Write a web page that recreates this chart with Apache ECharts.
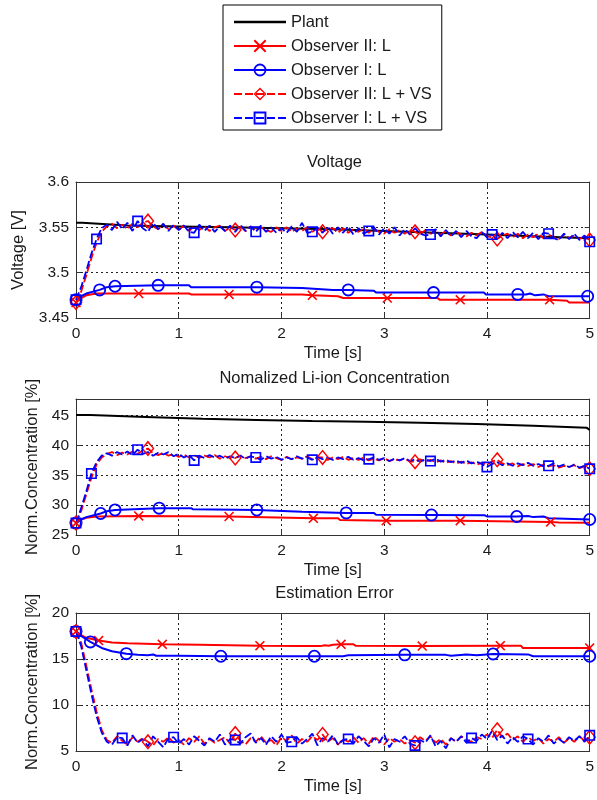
<!DOCTYPE html>
<html><head><meta charset="utf-8">
<script src="https://cdn.jsdelivr.net/npm/echarts@6/dist/echarts.min.js"></script>
<style>html,body{margin:0;padding:0;background:#fff}#c{width:597px;height:800px}</style>
</head><body><div id="c"></div>
<script>
// ---------- DATA ----------
const time = [0,0.05,0.1,0.15,0.2,0.25,0.3,0.35,0.4,0.45,0.5,0.55,0.6,0.65,0.7,0.75,0.8,0.85,0.9,0.95,1,1.05,1.1,1.15,1.2,1.25,1.3,1.35,1.4,1.45,1.5,1.55,1.6,1.65,1.7,1.75,1.8,1.85,1.9,1.95,2,2.05,2.1,2.15,2.2,2.25,2.3,2.35,2.4,2.45,2.5,2.55,2.6,2.65,2.7,2.75,2.8,2.85,2.9,2.95,3,3.05,3.1,3.15,3.2,3.25,3.3,3.35,3.4,3.45,3.5,3.55,3.6,3.65,3.7,3.75,3.8,3.85,3.9,3.95,4,4.05,4.1,4.15,4.2,4.25,4.3,4.35,4.4,4.45,4.5,4.55,4.6,4.65,4.7,4.75,4.8,4.85,4.9,4.95,5];

const seriesNames = ['Plant','Observer II: L','Observer I: L','Observer II: L + VS','Observer I: L + VS'];
const titles = ['Voltage','Nomalized Li-ion Concentration','Estimation Error'];
const yNames = ['Voltage [V]','Norm.Concentration [%]','Norm.Concentration [%]'];
const xName = 'Time [s]';
const xTicks = [0,1,2,3,4,5];
const yTicksV = [3.45,3.5,3.55,3.6];
const yTicksC = [25,30,35,40,45];
const yTicksE = [5,10,15,20];

// Voltage
const vPlant = [[0,3.555],[0.06,3.555],[0.07,3.553],[0.5,3.552],[1,3.551],[1.5,3.55],[2,3.549],[2.5,3.548],[3,3.546],[3.5,3.544],[4,3.542],[4.5,3.54],[5,3.538]];
const vObs2L = [[0,3.467],[0.05,3.472],[0.1,3.475],[0.2,3.477],[0.61,3.477],[1.1,3.477],[1.12,3.476],[1.49,3.476],[2.2,3.476],[2.3,3.475],[2.55,3.474],[2.6,3.472],[3.03,3.472],[3.52,3.472],[3.54,3.47],[3.74,3.47],[4.61,3.47],[4.78,3.469],[4.8,3.467],[5,3.467]];
const vObs2LMarks = [0,0.61,1.49,2.3,3.03,3.74,4.61];
const vObs1L = [[0,3.47],[0.05,3.474],[0.1,3.477],[0.23,3.481],[0.3,3.484],[0.38,3.485],[0.8,3.486],[1.1,3.486],[1.12,3.484],[1.76,3.484],[2.2,3.483],[2.5,3.481],[2.65,3.481],[2.9,3.48],[2.92,3.478],[3.48,3.478],[3.97,3.478],[3.99,3.476],[4.3,3.476],[4.38,3.476],[4.42,3.477],[4.47,3.475],[4.55,3.476],[4.6,3.474],[4.98,3.474],[5,3.474]];
const vObs1LMarks = [0,0.23,0.38,0.8,1.76,2.65,3.48,4.3,4.98];
const vObs2VS = [3.467,3.479,3.497,3.516,3.533,3.545,3.551,3.554,3.549,3.553,3.548,3.554,3.55,3.555,3.557,3.551,3.548,3.553,3.548,3.552,3.547,3.552,3.546,3.551,3.547,3.551,3.546,3.55,3.552,3.546,3.55,3.547,3.551,3.546,3.551,3.546,3.55,3.547,3.545,3.55,3.546,3.55,3.545,3.549,3.546,3.55,3.545,3.549,3.545,3.548,3.549,3.544,3.549,3.544,3.548,3.545,3.549,3.544,3.548,3.545,3.543,3.548,3.544,3.547,3.543,3.547,3.545,3.542,3.547,3.543,3.546,3.542,3.546,3.541,3.545,3.542,3.54,3.544,3.541,3.545,3.54,3.539,3.537,3.541,3.543,3.539,3.543,3.538,3.542,3.539,3.543,3.538,3.542,3.539,3.537,3.542,3.538,3.541,3.537,3.54,3.536];
const vObs1VS = [3.47,3.484,3.502,3.521,3.537,3.549,3.553,3.547,3.556,3.548,3.555,3.546,3.557,3.549,3.545,3.555,3.548,3.554,3.546,3.553,3.547,3.552,3.545,3.544,3.553,3.546,3.552,3.545,3.551,3.546,3.552,3.545,3.553,3.546,3.551,3.545,3.552,3.545,3.55,3.544,3.549,3.544,3.551,3.545,3.555,3.544,3.545,3.55,3.544,3.551,3.543,3.55,3.544,3.551,3.542,3.549,3.543,3.546,3.55,3.542,3.549,3.543,3.55,3.541,3.548,3.542,3.549,3.543,3.541,3.542,3.548,3.54,3.547,3.54,3.546,3.539,3.546,3.54,3.538,3.545,3.539,3.542,3.537,3.544,3.538,3.545,3.539,3.545,3.538,3.544,3.537,3.544,3.543,3.538,3.536,3.543,3.537,3.543,3.536,3.541,3.534];
const vObs1VSMarks = [0,0.2,0.6,1.15,1.75,2.3,2.85,3.45,4.05,4.6,5];

// Concentration
const cPlant = [[0,45.1],[0.14,45.1],[0.15,44.8],[0.68,44.8],[0.69,44.5],[1.23,44.5],[1.24,44.3],[1.76,44.3],[1.77,44.1],[2.3,44.1],[2.31,44],[2.82,44],[2.83,43.8],[3.35,43.8],[3.36,43.6],[3.9,43.6],[3.91,43.3],[4.45,43.3],[4.46,43],[4.97,43],[5,42.6]];
const cObs2L = [[0,27],[0.05,27.6],[0.1,27.9],[0.2,28.1],[0.61,28.2],[1.49,28.1],[2.31,27.8],[2.55,27.8],[2.57,27.5],[3.02,27.4],[3.74,27.4],[4.62,27.2],[4.7,27.1],[5,27.05]];
const cObs2LMarks = [0,0.61,1.49,2.31,3.02,3.74,4.62];
const cObs1L = [[0,27],[0.05,27.6],[0.1,28],[0.24,28.6],[0.3,29],[0.38,29.2],[0.81,29.5],[1.12,29.5],[1.14,29.3],[1.76,29.2],[2.2,28.9],[2.63,28.7],[2.9,28.7],[2.92,28.4],[3.46,28.35],[3.98,28.3],[4,28.1],[4.29,28.1],[4.4,28.2],[4.45,28],[4.55,28.1],[4.6,27.8],[5,27.6]];
const cObs1LMarks = [0,0.24,0.38,0.81,1.76,2.63,3.46,4.29,5];
const cObs2VS = [27,29,31.8,34.6,36.8,38,38.6,38.9,38.4,38.8,38.5,39,38.6,39.2,39.5,38.7,38.4,38.8,38.3,38.6,38.1,38.5,38,38.4,37.9,38.3,38,38.4,37.8,38.2,37.9,37.9,38.3,37.9,38.2,37.8,38.1,37.7,38.2,37.9,37.6,38.1,37.7,38,37.8,38.2,37.7,38,38,37.6,38,37.7,38.1,37.6,37.9,37.6,38,37.5,37.8,37.5,37.9,37.4,37.7,37.5,37.8,37.3,37.3,37.7,37.3,37.6,37.2,37.5,37.1,37.4,37,37.3,36.9,37.2,36.8,37.1,36.8,37.3,37.6,37,36.7,37,36.5,36.9,36.6,36.9,36.4,36.8,36.5,36.7,36.3,36.6,36.4,36.7,36.2,36.5,36.1];
const cObs1VS = [27,29.5,32.3,35.3,37.2,38.3,38.7,38.3,38.9,38.5,39,38.4,39.3,38.6,38.9,38.3,38.8,38.5,38.9,38.2,38.6,38,38.4,37.5,38.3,37.9,38.4,38,38.3,37.8,38.2,37.9,38.3,37.8,38.2,38,37.6,38.2,37.8,38.1,37.6,38,37.7,38.2,37.8,38,37.6,38.1,37.7,38,37.6,38,37.7,38.1,37.6,37.9,37.5,37.7,38,37.6,37.9,37.4,37.8,37.5,37.9,37.4,37.7,37.3,37.7,37.4,37.8,37.3,37.6,37.2,37.5,37.1,37.5,37,37.3,36.9,36.4,36.9,37.2,36.7,37,36.6,37,36.7,37.1,36.6,36.9,36.5,36.6,37,36.5,36.8,36.4,36.8,36.3,36.6,36.1];
const cObs1VSMarks = [0,0.15,0.6,1.15,1.75,2.3,2.85,3.45,4,4.6,5];

// Estimation error
const eObs2L = [[0,18],[0.05,17.6],[0.1,17.3],[0.22,17],[0.35,16.8],[0.5,16.7],[0.84,16.6],[1.2,16.55],[1.79,16.45],[2.2,16.4],[2.38,16.4],[2.42,16.5],[2.46,16.45],[2.5,16.55],[2.58,16.6],[2.7,16.6],[2.72,16.45],[3.37,16.4],[4.13,16.45],[4.33,16.45],[4.35,16.2],[5,16.2]];
const eObs2LMarks = [0,0.22,0.84,1.79,2.58,3.37,4.13,5];
const eObs1L = [[0,18],[0.05,17.5],[0.14,16.86],[0.25,16.2],[0.35,15.85],[0.49,15.58],[0.6,15.45],[0.7,15.4],[0.75,15.5],[0.78,15.35],[1,15.35],[1.41,15.3],[2,15.3],[2.32,15.3],[2.6,15.3],[2.65,15.4],[3.2,15.45],[3.6,15.45],[3.65,15.35],[3.8,15.5],[3.9,15.4],[4.06,15.55],[4.4,15.5],[4.45,15.3],[5,15.3]];
const eObs1LMarks = [0,0.14,0.49,1.41,2.32,3.2,4.06,5];
const eObs2VS = [18,16.8,14.3,11.7,9.3,7.3,6.2,5.9,6.6,6.1,5.7,6.5,6,6.4,6,5.6,6.3,6,6.5,5.9,6.2,5.7,6.4,6,6.6,5.8,6.3,5.9,6.2,6.5,5.8,6.9,6.1,5.7,6.4,6,6.6,5.9,6.2,5.6,6.5,6.1,6.7,5.8,6.3,6,6.6,6.2,6.8,6,6.4,5.7,6.3,6,6.5,5.9,6.4,5.8,6.6,6.1,5.7,6.4,6,6.3,5.8,6.2,5.9,6.5,6.1,6.6,5.9,6.3,5.7,6.4,6,6.6,6.2,6,6.5,6.3,6.8,6.4,7.3,6.5,6.9,6.2,6.6,6,6.5,6.1,6.4,5.8,6.3,6,6.5,5.9,6.4,6,6.6,6.1,6.5];
const eObs1VS = [18,16.4,13.8,11.2,8.8,7,6,5.7,6.5,6.4,5.6,6.7,5.9,6.3,5.5,6.6,6,5.4,6.4,6.5,5.8,6.3,5.7,6.6,6.1,5.6,6.4,6,6.8,5.7,6.3,6.2,5.8,6.5,6.9,5.9,6.4,5.7,6.6,6,6.8,5.9,6,6.5,5.8,6.3,6.9,5.6,6.4,6,6.7,5.7,6.2,6.3,5.8,6.6,6.1,5.5,6.4,5.9,6.8,5.4,6.3,6,6.6,5.8,5.6,6.2,5.9,6.7,5.5,6.1,5.3,6.4,6,6.6,5.9,6.4,6.1,6.8,6.3,7.2,6.2,6.7,5.8,6.5,6,6.6,6.3,5.7,6.4,6,6.7,5.8,6.3,5.9,6.5,6.1,6.6,6,6.7];
const eObs1VSMarks = [0,0.45,0.95,1.55,2.1,2.65,3.3,3.85,4.4,5];

const vsObs2Marks = [0,0.7,1.55,2.4,3.3,4.1,5];

// ---------- STYLE ----------
const FONT = '"Liberation Sans", Arial, sans-serif';
const TXT = '#1a1a1a';
const RED = '#ff0000', BLUE = '#0000ff';
const SYM = {
  x: 'path://M0,2.2L2.2,0L10,7.8L17.8,0L20,2.2L12.2,10L20,17.8L17.8,20L10,12.2L2.2,20L0,17.8L7.8,10Z',
  o: 'path://M0,10A10,10,0,1,1,20,10A10,10,0,1,1,0,10ZM2.8,10A7.2,7.2,0,1,0,17.2,10A7.2,7.2,0,1,0,2.8,10Z',
  d: 'path://M10,0L20,12L10,24L0,12ZM10,3.6L2.7,12L10,20.4L17.3,12Z',
  s: 'path://M0,0L20,0L20,20L0,20ZM3,3L3,17L17,17L17,3Z'
};
const gridBoxes = [
  {left:76, top:182, width:517, height:136},
  {left:76, top:399, width:517, height:136},
  {left:76, top:613, width:517, height:138}
];
const yTickSets = [yTicksV, yTicksC, yTicksE];
const yMax = [3.6, 47.8, 20];
const yNameGap = [49, 34, 34];
const titleY = [162, 378, 593];

function isMark(t, marks){ return marks.some(m => Math.abs(m - t) < 1e-6); }
function fromPairs(pairs, marks){
  return pairs.map(p => isMark(p[0], marks) ? {value:[p[0], p[1]]} : {value:[p[0], p[1]], symbol:'none'});
}
function fromGrid(vals, marks){
  return vals.map((v, i) => isMark(time[i], marks) ? {value:[time[i], v]} : {value:[time[i], v], symbol:'none'});
}
function S(name, gi, data, color, dashed, sym, size, width){
  return {
    name, type:'line', xAxisIndex:gi, yAxisIndex:gi, data,
    symbol: sym || 'none', symbolSize: size || 0, showSymbol: true, showAllSymbol: true,
    lineStyle:{color, width: width || 2, type: dashed ? [8,3] : 'solid'},
    itemStyle:{color}, emphasis:{disabled:true}, silent:true, clip:true, animation:false
  };
}
const plotSeries = [
  [vPlant, vObs2L, vObs2LMarks, vObs1L, vObs1LMarks, vObs2VS, vObs1VS, vObs1VSMarks],
  [cPlant, cObs2L, cObs2LMarks, cObs1L, cObs1LMarks, cObs2VS, cObs1VS, cObs1VSMarks],
  [null,   eObs2L, eObs2LMarks, eObs1L, eObs1LMarks, eObs2VS, eObs1VS, eObs1VSMarks]
];
const series = [];
plotSeries.forEach((p, gi) => {
  series.push(S(seriesNames[0], gi, p[0] ? fromPairs(p[0], []) : [], '#000', false, 'none', 0, 2));
  series.push(S(seriesNames[1], gi, fromPairs(p[1], p[2]), RED, false, SYM.x, 10, 2));
  series.push(S(seriesNames[2], gi, fromPairs(p[3], p[4]), BLUE, false, SYM.o, 13, 2));
  series.push(S(seriesNames[3], gi, fromGrid(p[5], vsObs2Marks), RED, true, SYM.d, [13,16], 1.8));
  series.push(S(seriesNames[4], gi, fromGrid(p[6], p[7]), BLUE, true, SYM.s, 11, 1.8));
});

function fmtOnTicks(ticks, dec){
  return v => ticks.some(t => Math.abs(t - v) < 1e-6) ? String(+v.toFixed(dec)) : '';
}
const xAxes = [], yAxes = [];
const lineC = '#333';
gridBoxes.forEach((g, i) => {
  xAxes.push({
    gridIndex:i, type:'value', min:xTicks[0], max:xTicks[xTicks.length-1], interval:1,
    name:xName, nameLocation:'middle', nameGap:27,
    nameTextStyle:{fontSize:16.5, color:TXT, fontFamily:FONT},
    axisLine:{show:true, onZero:false, lineStyle:{color:lineC, width:1}},
    axisTick:{show:true, inside:true, length:5, lineStyle:{color:lineC}},
    axisLabel:{fontSize:15.5, color:TXT, fontFamily:FONT, margin:8, formatter: fmtOnTicks(xTicks, 0)},
    splitLine:{show:true, lineStyle:{color:'#222', type:[2,3], width:1}}
  });
});
gridBoxes.forEach((g, i) => {
  xAxes.push({
    gridIndex:i, type:'value', position:'top', min:0, max:5, interval:1,
    axisLine:{show:true, onZero:false, lineStyle:{color:lineC, width:1}},
    axisTick:{show:true, inside:true, length:5, lineStyle:{color:lineC}},
    axisLabel:{show:false}, splitLine:{show:false}
  });
});
gridBoxes.forEach((g, i) => {
  const tk = yTickSets[i];
  yAxes.push({
    gridIndex:i, type:'value', min:tk[0], max:yMax[i], interval: +(tk[1]-tk[0]).toFixed(4),
    name:yNames[i], nameLocation:'middle', nameGap:yNameGap[i], nameRotate:90,
    nameTextStyle:{fontSize:16.5, color:TXT, fontFamily:FONT},
    axisLine:{show:true, onZero:false, lineStyle:{color:lineC, width:1}},
    axisTick:{show:true, inside:true, length:5, lineStyle:{color:lineC}},
    axisLabel:{fontSize:15.5, color:TXT, fontFamily:FONT, margin:7, formatter: fmtOnTicks(tk, 2), showMaxLabel:true},
    splitLine:{show:true, lineStyle:{color:'#222', type:[2,3], width:1}}
  });
});
gridBoxes.forEach((g, i) => {
  const tk = yTickSets[i];
  yAxes.push({
    gridIndex:i, type:'value', position:'right', min:tk[0], max:yMax[i], interval: +(tk[1]-tk[0]).toFixed(4),
    axisLine:{show:true, onZero:false, lineStyle:{color:lineC, width:1}},
    axisTick:{show:true, inside:true, length:5, lineStyle:{color:lineC}},
    axisLabel:{show:false}, splitLine:{show:false}
  });
});

const graphics = titles.map((t, i) => ({
  type:'text', x: gridBoxes[i].left + gridBoxes[i].width/2, y: titleY[i], silent:true,
  style:{text:t, fill:TXT, font:'16.5px ' + FONT, textAlign:'center', textVerticalAlign:'middle', align:'center', verticalAlign:'middle'}
}));

const option = {
  animation:false,
  backgroundColor:'#fff',
  grid: gridBoxes.map(g => Object.assign({show:false}, g)),
  xAxis: xAxes, yAxis: yAxes,
  legend: {
    orient:'vertical', left:223, top:5, padding:[8,10,3,10],
    itemWidth:52, itemHeight:16, itemGap:6,
    backgroundColor:'#fff', borderColor:'#000', borderWidth:1, borderRadius:0,
    selectedMode:false,
    textStyle:{fontSize:16.5, fontFamily:FONT, color:TXT, lineHeight:18},
    data:[{name:seriesNames[0], icon:'path://M0,0L52,0L52,2.4L0,2.4Z'}, seriesNames[1], seriesNames[2], seriesNames[3], seriesNames[4]]
  },
  graphic: graphics,
  series
};
const chart = echarts.init(document.getElementById('c'), null, {renderer:'canvas'});
chart.setOption(option);
</script></body></html>
